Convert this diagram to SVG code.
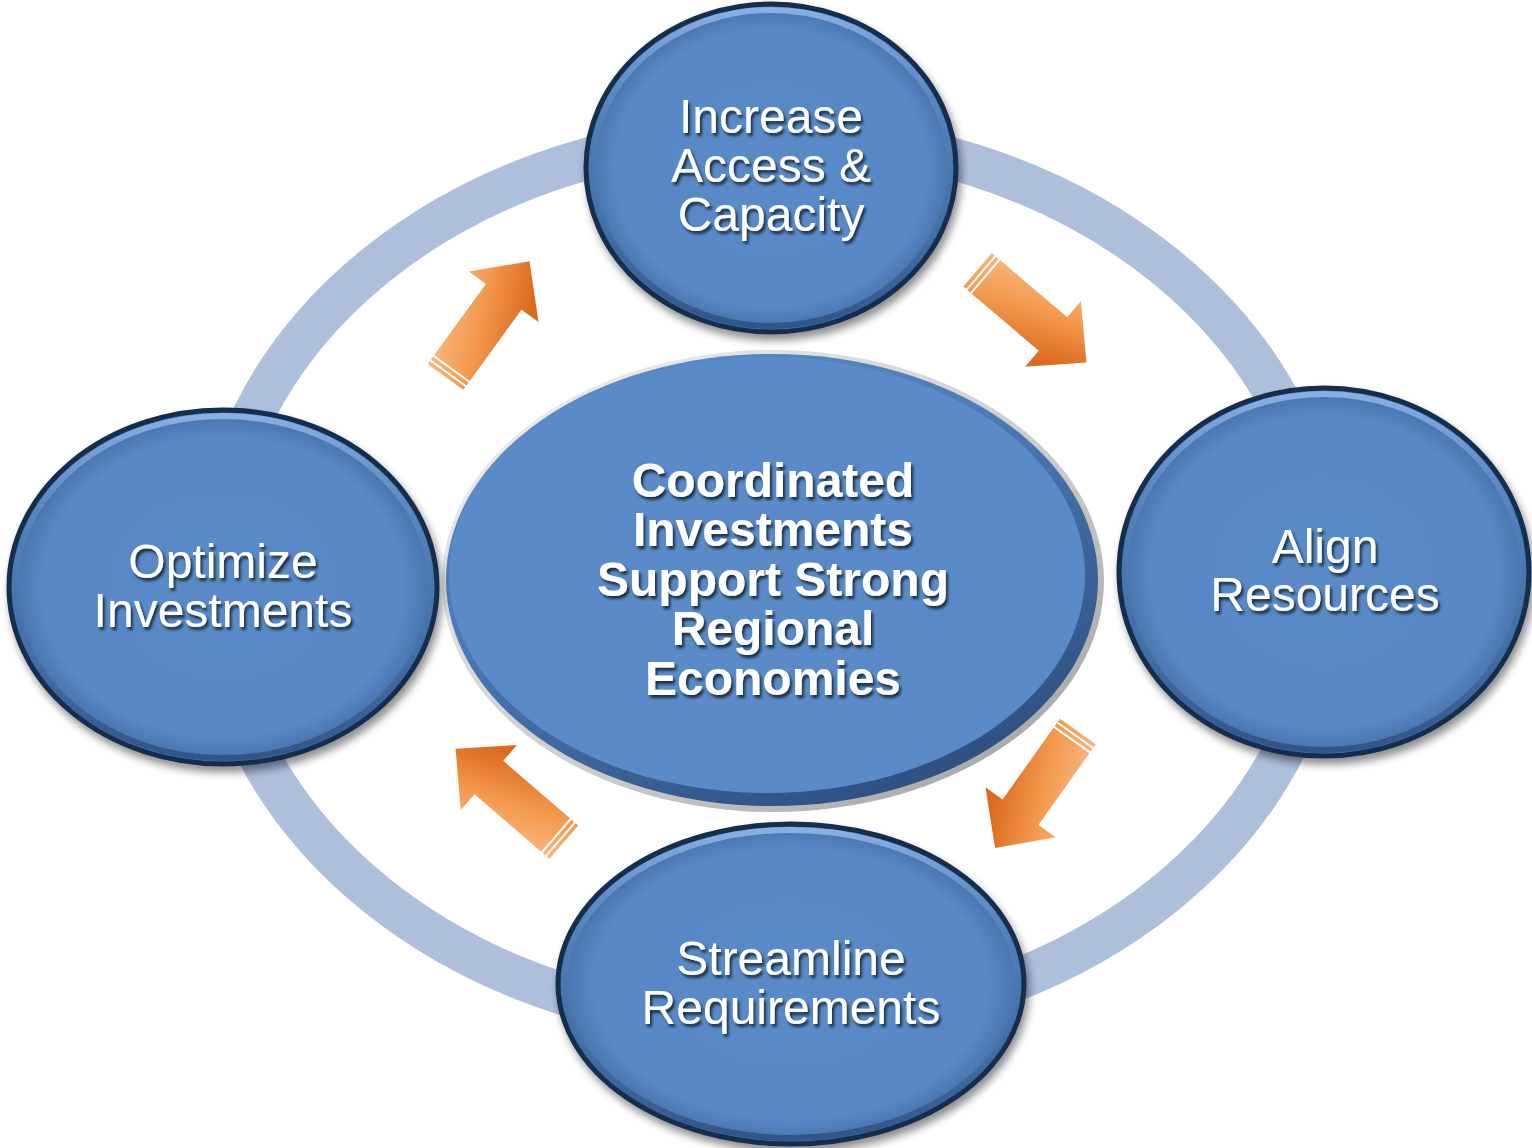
<svg xmlns="http://www.w3.org/2000/svg" width="1532" height="1148" viewBox="0 0 1532 1148">
<defs>
  <style>
    .node-txt{font-family:"Liberation Sans",Arial,sans-serif;font-size:48px;fill:#ffffff;text-anchor:middle;filter:url(#tshadow)}
    .center-txt{font-family:"Liberation Sans",Arial,sans-serif;font-size:48px;font-weight:bold;fill:#ffffff;text-anchor:middle;filter:url(#tshadow)}
    .node-shape{fill:url(#nodeFill);stroke:#152e4d;stroke-width:5;filter:url(#dshadow)}
    .node-hl{fill:none;stroke:url(#rimHL);stroke-width:6}
    .arrow{fill:url(#arrowGrad)}
  </style>
  <radialGradient id="nodeFill" cx="0.5" cy="0.5" r="0.5">
    <stop offset="0" stop-color="#5a8bc8"/>
    <stop offset="0.85" stop-color="#5888c5"/>
    <stop offset="1" stop-color="#4570a8"/>
  </radialGradient>
  <linearGradient id="rimHL" x1="0" y1="0" x2="0" y2="1">
    <stop offset="0" stop-color="#8fb6e8" stop-opacity="0.9"/>
    <stop offset="0.35" stop-color="#6d9ad4" stop-opacity="0.3"/>
    <stop offset="0.7" stop-color="#2f5688" stop-opacity="0.2"/>
    <stop offset="1" stop-color="#2a4d7d" stop-opacity="0.8"/>
  </linearGradient>
  <linearGradient id="centerRim" x1="0" y1="0" x2="1" y2="1">
    <stop offset="0" stop-color="#f2f2f2"/>
    <stop offset="0.6" stop-color="#c9c9c9"/>
    <stop offset="1" stop-color="#9a9a9a"/>
  </linearGradient>
  <linearGradient id="centerBand" x1="0" y1="0" x2="0.6" y2="1">
    <stop offset="0" stop-color="#5d8fcc"/>
    <stop offset="0.5" stop-color="#4a78b3"/>
    <stop offset="1" stop-color="#2f5283"/>
  </linearGradient>
  <linearGradient id="arrowGrad" gradientUnits="userSpaceOnUse" x1="20" y1="-45" x2="60" y2="45">
    <stop offset="0" stop-color="#f9bc88"/>
    <stop offset="0.5" stop-color="#f39a4f"/>
    <stop offset="1" stop-color="#dc6a1e"/>
  </linearGradient>
  <filter id="dshadow" x="-10%" y="-10%" width="125%" height="130%">
    <feGaussianBlur in="SourceAlpha" stdDeviation="4"/>
    <feOffset dx="3" dy="6" result="b"/>
    <feComponentTransfer><feFuncA type="linear" slope="0.45"/></feComponentTransfer>
    <feMerge><feMergeNode/><feMergeNode in="SourceGraphic"/></feMerge>
  </filter>
  <filter id="tshadow" x="-10%" y="-20%" width="120%" height="150%">
    <feGaussianBlur in="SourceAlpha" stdDeviation="1.5"/>
    <feOffset dx="2" dy="2.5"/>
    <feComponentTransfer><feFuncA type="linear" slope="0.7"/></feComponentTransfer>
    <feMerge><feMergeNode/><feMergeNode in="SourceGraphic"/></feMerge>
  </filter>
  <g id="arrowShape">
    <path class="arrow" d="M0,-22 L88,-22 L88,-43 L132,0 L88,43 L88,22 L0,22 Z"/>
    <rect class="arrow" x="-5.5" y="-22" width="3.5" height="44"/>
    <rect class="arrow" x="-11" y="-22" width="3.5" height="44"/>
  </g>
</defs>

<rect width="1532" height="1148" fill="#ffffff"/>

<g id="connectors">
  <ellipse id="ring" cx="770" cy="580" rx="556" ry="446" fill="none" stroke="#aebfdc" stroke-width="42"/>
  <use href="#arrowShape" transform="translate(452,368) rotate(-54)"/>
  <use href="#arrowShape" transform="translate(986,277) rotate(40.4)"/>
  <use href="#arrowShape" transform="translate(1071.5,740.5) rotate(125.4)"/>
  <use href="#arrowShape" transform="translate(555.5,835) rotate(220.8)"/>
</g>

<g id="node-center">
  <ellipse cx="773" cy="581" rx="331" ry="231" fill="url(#centerRim)"/>
  <ellipse cx="772" cy="580" rx="326" ry="226" fill="url(#centerBand)"/>
  <ellipse cx="767" cy="575" rx="318" ry="218" fill="#5a8bc8"/>
  <text class="center-txt" x="773" y="497">Coordinated</text>
  <text class="center-txt" x="773" y="546">Investments</text>
  <text class="center-txt" x="773" y="596">Support Strong</text>
  <text class="center-txt" x="773" y="645">Regional</text>
  <text class="center-txt" x="773" y="695">Economies</text>
</g>

<g id="node-top">
  <ellipse class="node-shape" cx="771" cy="168" rx="185" ry="164"/>
  <ellipse class="node-hl" cx="771" cy="168" rx="179" ry="158"/>
  <text class="node-txt" x="771" y="133">Increase</text>
  <text class="node-txt" x="771" y="182">Access &amp;</text>
  <text class="node-txt" x="771" y="231">Capacity</text>
</g>

<g id="node-left">
  <ellipse class="node-shape" cx="223" cy="587" rx="214" ry="177"/>
  <ellipse class="node-hl" cx="223" cy="587" rx="208" ry="171"/>
  <text class="node-txt" x="223" y="578">Optimize</text>
  <text class="node-txt" x="223" y="627">Investments</text>
</g>

<g id="node-right">
  <ellipse class="node-shape" cx="1324" cy="572" rx="205" ry="184"/>
  <ellipse class="node-hl" cx="1324" cy="572" rx="199" ry="178"/>
  <text class="node-txt" x="1325" y="563">Align</text>
  <text class="node-txt" x="1325" y="611">Resources</text>
</g>

<g id="node-bottom">
  <ellipse class="node-shape" cx="791" cy="984" rx="233" ry="160"/>
  <ellipse class="node-hl" cx="791" cy="984" rx="227" ry="154"/>
  <text class="node-txt" x="791" y="975">Streamline</text>
  <text class="node-txt" x="791" y="1024">Requirements</text>
</g>
</svg>
